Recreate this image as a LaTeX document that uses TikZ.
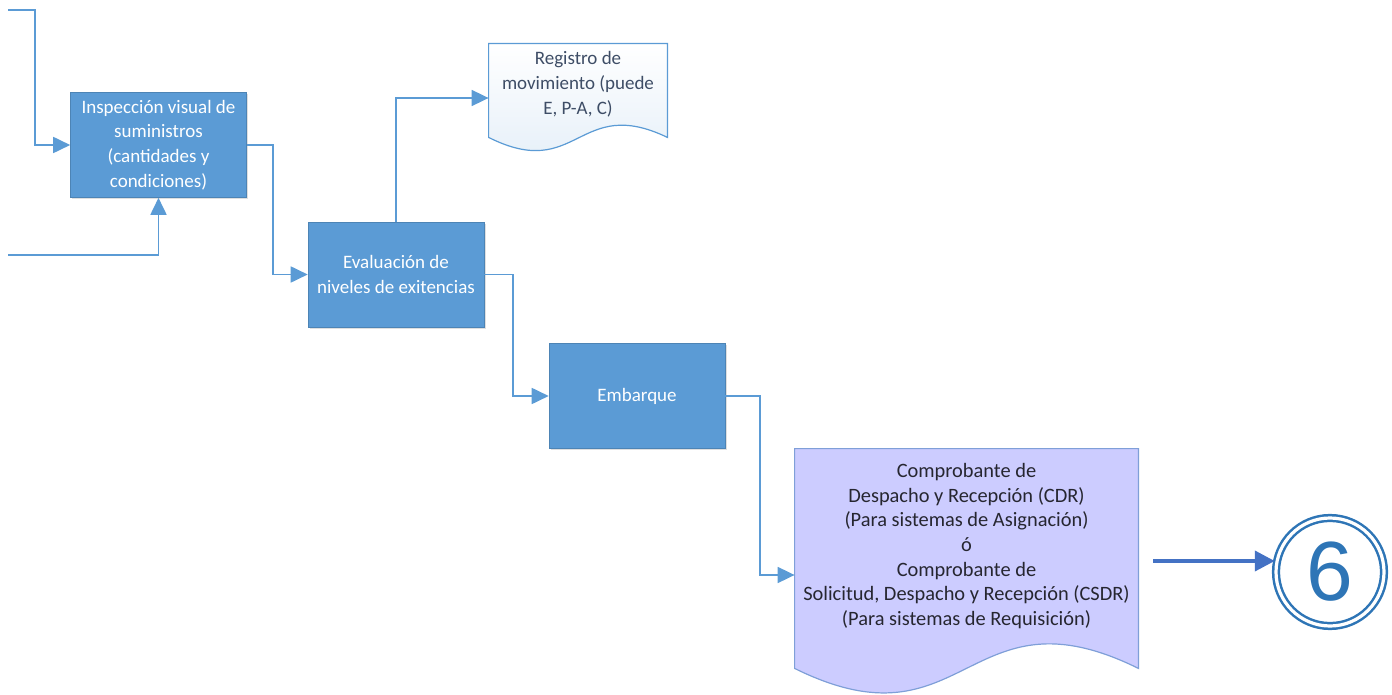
\documentclass[tikz,border=0pt]{standalone}
\usepackage{fontspec}
\setmainfont{Carlito}
\newfontfamily\numfont{Liberation Sans}
\usetikzlibrary{calc,arrows.meta,shadows}
\definecolor{boxblue}{HTML}{5B9BD5}
\definecolor{ringblue}{HTML}{2E75B6}
\definecolor{arrowblue}{HTML}{4472C4}
\definecolor{lavender}{HTML}{CCCCFF}
\definecolor{docline}{HTML}{7F9FD8}
\definecolor{regtext}{HTML}{3E4D66}
\definecolor{cdrtext}{HTML}{262630}

\begin{document}
\begin{tikzpicture}[x=0.5pt, y=-0.5pt,
    every node/.style={inner sep=0pt, align=center, font=\fontsize{9.5}{12.4}\selectfont},
    procbox/.style={rectangle, fill=boxblue, draw=boxblue!85!black, line width=0.3pt, text=white,
        minimum width=88pt, minimum height=52.5pt,
        drop shadow={opacity=0.25, shadow xshift=0.8pt, shadow yshift=-0.8pt}},
    docbox/.style={rectangle, draw=none},
    link/.style={draw=boxblue, line width=0.9pt, -{Triangle[length=8.5pt, width=8pt]}},
]
\useasboundingbox (0,0) rectangle (1392,695);

% process boxes
\node (insp) at (158.5,145) [procbox] {Inspección visual de\\suministros\\(cantidades y\\condiciones)};
\node (eva) at (396,274.5) [procbox] {Evaluación de\\niveles de exitencias};
\node (emb) at (637,396) [procbox] {Embarque};

% documents
\node (reg) at (578,84) [docbox, minimum width=89pt, minimum height=40pt] {};
\draw[boxblue, line width=0.6pt, top color=white, bottom color=boxblue!18]
    (reg.north west) -- (reg.north east) -- ($(reg.south east)+(0,13)$)
    .. controls ($(reg.south)+(0,-30)$) and ($(reg.south)+(0,58)$) .. ($(reg.south west)+(0,13)$) -- cycle;
\node at (reg) [text=regtext] {Registro de\\movimiento (puede\\E, P-A, C)};

\node (cdr) at (966.5,546) [docbox, minimum width=171.5pt, minimum height=97pt] {};
\draw[docline, line width=0.6pt, fill=lavender]
    (cdr.north west) -- (cdr.north east) -- ($(cdr.south east)+(0,25)$)
    .. controls ($(cdr.south)+(0,-60)$) and ($(cdr.south)+(0,110)$) .. ($(cdr.south west)+(0,25)$) -- cycle;
\node at (cdr) [text=cdrtext, font=\fontsize{10.2}{12.3}\selectfont] {Comprobante de\\Despacho y Recepción (CDR)\\(Para sistemas de Asignación)\\ó\\Comprobante de\\Solicitud, Despacho y Recepción (CSDR)\\(Para sistemas de Requisición)};

% connector
\node (six) at (1330,572) [circle, draw=ringblue, line width=1.25pt, double=white, double distance=1.6pt,
    minimum size=54pt, text=ringblue, font=\numfont\fontsize{42}{42}\selectfont] {6};

% free ends
\coordinate (in1) at (8,10);
\coordinate (in2) at (8,255);
\coordinate (go6) at (1153,561);

% arrows
\draw[link] (in1) -- ++(27,0) |- (insp.west);
\draw[link] (in2) -| (insp.south);
\draw[link] (insp.east) -- ++(26,0) |- (eva.west);
\draw[link] (eva.north) |- ($(reg.west)+(0,14)$);
\draw[link] (eva.east) -- ++(29,0) |- (emb.west);
\draw[link] (emb.east) -- ++(35,0) |- ($(cdr.west)+(0,29)$);
\draw[arrowblue, line width=2pt, -{Triangle[length=10pt, width=10pt]}] (go6) -- (go6 -| six.west);
\end{tikzpicture}
\end{document}
